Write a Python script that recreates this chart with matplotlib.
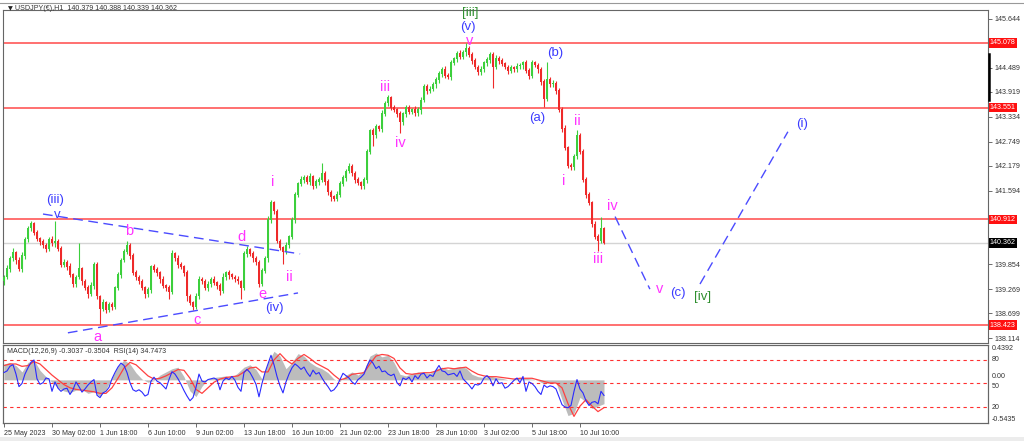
import numpy as np
import matplotlib
matplotlib.use('Agg')
import matplotlib.pyplot as plt
import matplotlib.transforms as mtrans
from matplotlib.lines import Line2D

plt.rcParams['font.family'] = ['Liberation Sans', 'DejaVu Sans']

# ---- price data, one candle = 4 hours ----
closes = [
    139.55, 139.75, 140.00, 140.14, 139.95, 139.74, 140.05, 140.44, 140.70, 140.82,
    140.60, 140.45, 140.38, 140.30, 140.21, 140.44, 140.35, 140.40, 140.22, 139.85,
    139.90, 139.80, 139.60, 139.38, 139.55, 139.75, 139.45, 139.30, 139.15, 139.35,
    139.85, 139.10, 138.80, 138.95, 138.78, 138.90, 138.85, 139.30, 139.60, 139.95,
    140.15, 140.30, 140.05, 139.65, 139.55, 139.45, 139.30, 139.15, 139.25, 139.80,
    139.72, 139.65, 139.50, 139.35, 139.30, 139.20, 140.10, 140.00, 139.85, 139.80,
    139.65, 139.10, 138.95, 138.85, 139.10, 139.50, 139.45, 139.30, 139.38, 139.50,
    139.42, 139.35, 139.22, 139.55, 139.65, 139.60, 139.55, 139.50, 139.45, 139.30,
    140.10, 140.20, 140.10, 140.00, 139.90, 139.40, 139.70, 140.00, 140.90, 141.30,
    141.10, 140.40, 140.25, 140.15, 140.30, 140.50, 140.90, 141.50, 141.75, 141.85,
    141.90, 141.80, 141.92, 141.70, 141.80, 141.85, 142.00, 141.80, 141.55, 141.45,
    141.40, 141.50, 141.75, 141.90, 142.05, 142.15, 142.00, 141.85, 141.78, 141.70,
    141.85, 142.50, 143.00, 142.90, 143.10, 143.05, 143.40, 143.65, 143.78, 143.55,
    143.50, 143.40, 143.20, 143.40, 143.55, 143.45, 143.50, 143.42, 143.50, 143.72,
    144.05, 143.95, 143.98, 144.10, 144.20, 144.35, 144.45, 144.30, 144.28, 144.60,
    144.70, 144.82, 144.75, 144.85, 144.95, 144.80, 144.65, 144.50, 144.38, 144.45,
    144.60, 144.68, 144.80, 144.50, 144.70, 144.65, 144.58, 144.50, 144.42, 144.48,
    144.45, 144.52, 144.55, 144.60, 144.42, 144.30, 144.60, 144.55, 144.45, 144.15,
    143.75, 144.20, 144.10, 144.12, 143.95, 143.50, 143.05, 142.60, 142.18, 142.15,
    142.40, 142.90, 142.50, 141.85, 141.50, 141.30, 140.80, 140.50, 140.40, 140.70,
    140.36,
]
first_open = 139.45
wick_up = [
    0.06, 0.08, 0.05, 0.10, 0.04, 0.07, 0.09, 0.05, 0.06, 0.05,
    0.04, 0.07, 0.05, 0.08, 0.06, 0.05, 0.09, 0.47, 0.05, 0.06,
    0.07, 0.05, 0.08, 0.04, 0.06, 0.60, 0.05, 0.07, 0.06, 0.08,
    0.05, 0.06, 0.04, 0.09, 0.05, 0.07, 0.06, 0.05, 0.08, 0.06,
    0.07, 0.10, 0.05, 0.06, 0.08, 0.05, 0.07, 0.04, 0.06, 0.05,
    0.06, 0.08, 0.05, 0.07, 0.04, 0.06, 0.10, 0.05, 0.07, 0.06,
    0.05, 0.08, 0.06, 0.04, 0.07, 0.09, 0.05, 0.06, 0.08, 0.05,
    0.07, 0.04, 0.06, 0.09, 0.05, 0.07, 0.06, 0.05, 0.08, 0.04,
    0.06, 0.08, 0.05, 0.07, 0.06, 0.05, 0.07, 0.06, 0.09, 0.08,
    0.05, 0.07, 0.06, 0.04, 0.08, 0.05, 0.07, 0.06, 0.05, 0.09,
    0.06, 0.05, 0.08, 0.04, 0.07, 0.06, 0.25, 0.05, 0.07, 0.06,
    0.05, 0.08, 0.06, 0.07, 0.05, 0.09, 0.06, 0.05, 0.07, 0.04,
    0.06, 0.08, 0.05, 0.07, 0.06, 0.05, 0.09, 0.06, 0.07, 0.05,
    0.06, 0.04, 0.08, 0.05, 0.07, 0.06, 0.05, 0.08, 0.06, 0.07,
    0.05, 0.06, 0.09, 0.05, 0.07, 0.06, 0.05, 0.08, 0.06, 0.07,
    0.05, 0.06, 0.08, 0.05, 0.12, 0.06, 0.05, 0.07, 0.06, 0.08,
    0.05, 0.07, 0.06, 0.05, 0.08, 0.06, 0.07, 0.05, 0.06, 0.08,
    0.05, 0.07, 0.06, 0.05, 0.08, 0.06, 0.07, 0.05, 0.06, 0.05,
    0.07, 0.42, 0.06, 0.08, 0.05, 0.07, 0.06, 0.08, 0.05, 0.07,
    0.06, 0.12, 0.05, 0.08, 0.06, 0.07, 0.05, 0.08, 0.06, 0.26,
    0.03,
]
wick_dn = [
    0.08, 0.05, 0.07, 0.06, 0.09, 0.05, 0.06, 0.08, 0.05, 0.07,
    0.06, 0.05, 0.08, 0.06, 0.07, 0.05, 0.06, 0.08, 0.05, 0.07,
    0.06, 0.08, 0.05, 0.07, 0.06, 0.05, 0.08, 0.06, 0.09, 0.05,
    0.07, 0.06, 0.35, 0.05, 0.07, 0.06, 0.08, 0.05, 0.06, 0.07,
    0.05, 0.06, 0.08, 0.05, 0.07, 0.06, 0.05, 0.08, 0.06, 0.07,
    0.05, 0.06, 0.08, 0.05, 0.07, 0.16, 0.05, 0.06, 0.08, 0.05,
    0.07, 0.10, 0.05, 0.08, 0.06, 0.07, 0.05, 0.06, 0.08, 0.05,
    0.06, 0.07, 0.09, 0.05, 0.06, 0.08, 0.05, 0.07, 0.06, 0.26,
    0.05, 0.07, 0.06, 0.08, 0.05, 0.07, 0.06, 0.05, 0.08, 0.06,
    0.07, 0.05, 0.06, 0.29, 0.05, 0.07, 0.06, 0.08, 0.05, 0.06,
    0.07, 0.05, 0.08, 0.06, 0.05, 0.07, 0.06, 0.08, 0.05, 0.10,
    0.06, 0.05, 0.07, 0.06, 0.08, 0.05, 0.06, 0.07, 0.05, 0.08,
    0.06, 0.07, 0.05, 0.25, 0.06, 0.05, 0.08, 0.06, 0.07, 0.05,
    0.06, 0.08, 0.24, 0.05, 0.07, 0.06, 0.05, 0.08, 0.06, 0.11,
    0.05, 0.07, 0.06, 0.05, 0.08, 0.06, 0.07, 0.05, 0.06, 0.08,
    0.05, 0.07, 0.06, 0.05, 0.08, 0.06, 0.07, 0.05, 0.06, 0.07,
    0.05, 0.06, 0.08, 0.50, 0.05, 0.07, 0.06, 0.05, 0.08, 0.06,
    0.07, 0.05, 0.06, 0.08, 0.05, 0.07, 0.06, 0.05, 0.08, 0.06,
    0.18, 0.05, 0.07, 0.06, 0.08, 0.05, 0.07, 0.06, 0.05, 0.08,
    0.06, 0.07, 0.05, 0.06, 0.08, 0.05, 0.07, 0.06, 0.23, 0.05,
    0.02,
]

# MACD(12,26,9) read every second candle
macd_main = [
    0.20, 0.22, 0.18, 0.10, 0.22, 0.25, 0.12, 0.04, -0.03, -0.10,
    -0.14, -0.16, -0.13, -0.12, -0.17, -0.15, -0.21, -0.12, 0.03, 0.17,
    0.25, 0.20, 0.09, 0.01, -0.03, -0.01, 0.06, 0.10, 0.14, 0.16,
    0.04, -0.14, -0.21, -0.08, 0.01, 0.03, 0.04, 0.05, 0.03, 0.09,
    0.16, 0.19, 0.13, 0.01, 0.22, 0.36, 0.30, 0.14, 0.22, 0.33,
    0.30, 0.22, 0.17, 0.14, 0.09, 0.01, -0.02, 0.06, 0.10, 0.06,
    0.12, 0.30, 0.34, 0.29, 0.31, 0.22, 0.07, 0.05, 0.08, 0.10,
    0.09, 0.08, 0.14, 0.16, 0.13, 0.15, 0.17, 0.15, 0.07, 0.04,
    0.03, 0.05, 0.03, 0.02, 0.00, 0.01, 0.03, 0.02, 0.01, -0.01,
    -0.05, -0.04, -0.03, -0.25, -0.45, -0.42, -0.22, -0.28, -0.36, -0.33,
    -0.30,
]
macd_signal = [
    0.18, 0.20, 0.20, 0.17, 0.18, 0.23, 0.20, 0.13, 0.06, 0.00,
    -0.06, -0.10, -0.12, -0.13, -0.14, -0.15, -0.17, -0.17, -0.10, 0.02,
    0.15, 0.22, 0.19, 0.12, 0.05, 0.01, 0.02, 0.05, 0.09, 0.13,
    0.12, 0.02, -0.12, -0.17, -0.10, -0.03, 0.01, 0.03, 0.04, 0.05,
    0.10, 0.15, 0.16, 0.10, 0.10, 0.25, 0.33, 0.25, 0.20, 0.27,
    0.32, 0.27, 0.21, 0.17, 0.13, 0.06, 0.00, 0.02, 0.07, 0.08,
    0.09, 0.20, 0.30, 0.32, 0.31, 0.27, 0.15, 0.08, 0.07, 0.08,
    0.09, 0.09, 0.11, 0.14, 0.15, 0.14, 0.15, 0.16, 0.11, 0.07,
    0.05, 0.04, 0.04, 0.03, 0.02, 0.01, 0.02, 0.02, 0.02, 0.00,
    -0.02, -0.04, -0.04, -0.10, -0.30, -0.46, -0.33, -0.25, -0.33, -0.40,
    -0.35,
]
# RSI(14), one value per candle
rsi = [
    64, 66, 72, 74, 62, 46, 50, 62, 70, 77,
    80, 56, 49, 51, 57, 56, 40, 52, 44, 40,
    43, 44, 36, 42, 52, 46, 39, 43, 48, 52,
    55, 35, 32, 38, 40, 45, 56, 64, 71, 76,
    73, 64, 51, 42, 40, 42, 39, 34, 36, 53,
    58, 53, 51, 47, 43, 55, 65, 62, 56, 49,
    41, 34, 28, 32, 45, 62, 53, 52, 55, 56,
    57, 55, 42, 53, 57, 55, 59, 54, 45, 40,
    64, 68, 64, 57, 49, 33, 50, 64, 75, 86,
    74, 59, 47, 38, 52, 62, 70, 75, 72, 68,
    71, 64, 59, 67, 62, 64, 57, 51, 46, 40,
    42, 47, 55, 63, 60, 57, 52, 49, 55, 58,
    62, 72, 80, 76, 69, 72, 65, 66, 62, 60,
    62, 51, 47, 57, 55, 58, 52, 60, 56, 62,
    63, 57, 61, 59, 67, 73, 66, 65, 61, 62,
    63, 59, 66, 56, 52, 48, 43, 49, 48, 50,
    57, 60, 56, 47, 56, 50, 51, 44, 46, 50,
    54, 57, 51, 59, 40, 52, 50, 46, 40, 36,
    48, 45, 47, 46, 43, 33, 23, 20, 19, 22,
    40, 55, 43, 38, 28, 22, 26, 27, 24, 40,
    34.75,
]

levels = [145.078, 143.551, 140.912, 138.423]
last_price = 140.362
price_ticks = [145.644, 144.489, 143.919, 143.334, 142.749, 142.179,
               141.594, 139.854, 139.269, 138.699, 138.114]
time_ticks = [0, 16, 32, 48, 64, 80, 96, 112, 128, 144, 160, 176, 192]
time_labels = ['25 May 2023', '30 May 02:00', '1 Jun 18:00', '6 Jun 10:00',
               '9 Jun 02:00', '13 Jun 18:00', '16 Jun 10:00', '21 Jun 02:00',
               '23 Jun 18:00', '28 Jun 10:00', '3 Jul 02:00', '5 Jul 18:00',
               '10 Jul 10:00']

# wave counts (text, candle index, price)
blue_labels = [('(iii)', 17, 141.36), ('v', 17.7, 141.02), ('(iv)', 90, 138.82),
               ('(v)', 154.7, 145.46), ('(a)', 177.7, 143.31), ('(b)', 183.7, 144.84),
               ('(c)', 224.5, 139.18), ('(i)', 266, 143.17)]
pink_labels = [('a', 31, 138.15), ('b', 41.7, 140.65), ('c', 64.3, 138.54),
               ('d', 79.3, 140.51), ('e', 86, 139.16), ('i', 89.7, 141.79),
               ('ii', 95, 139.56), ('iii', 127, 144.04), ('iv', 132, 142.72),
               ('v', 155.3, 145.11), ('i', 186.7, 141.81), ('ii', 191, 143.24),
               ('iii', 198, 139.98), ('iv', 202.7, 141.22), ('v', 218.5, 139.28)]
green_labels = [('[iii]', 155.3, 145.77), ('[iv]', 232.7, 139.09)]

tri_upper = ([13, 98.7], [141.04, 140.10])
tri_lower = ([21.3, 98], [138.24, 139.18])
proj_down = ([203.7, 215.3], [140.98, 139.27])
proj_up = ([232, 261.3], [139.39, 142.98])

BLUE = '#3c3cff'
PINK = '#ff33ff'
GREEN = '#2f8f2f'
TXT = '#333333'
FS = 5.1

fig = plt.figure(figsize=(10.24, 4.41), dpi=100)
W, H = 1024.0, 441.0
ax = fig.add_axes([3 / W, 1 - 343 / H, 985 / W, 333 / H])
axm = fig.add_axes([3 / W, 1 - 423 / H, 985 / W, 78 / H])

n = len(closes)
x = np.arange(n)
c = np.array(closes)
o = np.array([first_open] + closes[:-1])
hi = np.maximum(o, c) + np.array(wick_up)
lo = np.minimum(o, c) - np.array(wick_dn)
cols = np.where(c >= o, '#3ccf3c', '#ee2a2a')

for lv in levels:
    ax.axhline(lv, color='#ff6464', lw=1.3, zorder=1)
ax.axhline(last_price, color='#d4d4d4', lw=1.0, zorder=1)

ax.vlines(x, lo, hi, colors=cols, lw=0.8, zorder=3)
ax.bar(x, np.abs(c - o) + 0.015, bottom=np.minimum(o, c), width=0.7,
       color=cols, lw=0, zorder=3)

for xs, ys in (tri_upper, tri_lower, proj_down, proj_up):
    ax.plot(xs, ys, color='#4b4bff', lw=1.0, dashes=(7, 4), zorder=4)

for t, bx, py in blue_labels:
    ax.text(bx, py, t, color=BLUE, fontsize=9.5, ha='center', va='center', zorder=5)
for t, bx, py in pink_labels:
    ax.text(bx, py, t, color=PINK, fontsize=10.5, ha='center', va='center', zorder=5)
for t, bx, py in green_labels:
    ax.text(bx, py, t, color=GREEN, fontsize=9.5, ha='center', va='center', zorder=5)

ax.set_xlim(-0.33, 328)
ax.set_ylim(138.0, 145.85)
ax.yaxis.tick_right()
ax.set_yticks(price_ticks)
ax.set_yticklabels(['%.3f' % v for v in price_ticks])
ax.tick_params(axis='y', labelsize=FS, labelcolor=TXT, length=3, width=0.6,
               color='#555555', pad=1.5)
ax.set_xticks([])
for s in ax.spines.values():
    s.set_color('#666666')
    s.set_linewidth(0.8)

yt = mtrans.blended_transform_factory(ax.transAxes, ax.transData)
for lv in levels:
    ax.text(1.002, lv, '%.3f' % lv, transform=yt, fontsize=FS, color='white',
            ha='left', va='center', clip_on=False, zorder=10,
            bbox=dict(boxstyle='square,pad=0.2', fc='#ff1010', ec='none'))
ax.text(1.002, last_price, '%.3f' % last_price, transform=yt, fontsize=FS,
        color='white', ha='left', va='center', clip_on=False, zorder=10,
        bbox=dict(boxstyle='square,pad=0.2', fc='black', ec='none'))

# ---- MACD + RSI pane ----
mx = np.arange(0, n, 2)
axm.fill_between(mx, 0, macd_main, color='#bcbcbc', lw=0, zorder=1)
axm.plot(mx, macd_signal, color='#ff4040', lw=0.9, zorder=3)
axm.set_ylim(-0.5435, 0.4392)
axm.set_xlim(-0.33, 328)
axr = axm.twinx()
axr.plot(x, rsi, color='#2a2aff', lw=0.8, zorder=4)
for lv in (80, 50, 20):
    axr.axhline(lv, color='#ff3030', lw=0.8, dashes=(3, 3))
axr.set_ylim(-0.4, 99.1)
axr.set_yticks([])
axm.set_yticks([])

for a in (axm, axr):
    for s in a.spines.values():
        s.set_color('#666666')
        s.set_linewidth(0.8)

mt = mtrans.blended_transform_factory(axm.transAxes, axm.transData)
rt = mtrans.blended_transform_factory(axr.transAxes, axr.transData)
axm.text(1.004, 0.4392, '0.4392', transform=mt, fontsize=FS, color=TXT, va='top')
axm.text(1.004, 0.0, '0.00', transform=mt, fontsize=FS, color=TXT, va='bottom')
axm.text(1.004, -0.5435, '-0.5435', transform=mt, fontsize=FS, color=TXT, va='bottom')
for lv in (80, 50, 20):
    axr.text(1.004, lv, str(lv), transform=rt, fontsize=FS, color=TXT,
             va='top' if lv == 50 else 'center')

axm.text(0.004, 0.96, 'MACD(12,26,9) -0.3037 -0.3504  RSI(14) 34.7473',
         transform=axm.transAxes, fontsize=FS, color=TXT, va='top', zorder=6)

axm.set_xticks(time_ticks)
axm.set_xticklabels(time_labels, ha='left')
axm.tick_params(axis='x', labelsize=FS, labelcolor=TXT, length=3, width=0.6,
                color='#555555', pad=2)

fig.text(8 / W, 1 - 9 / H, '\u25bc', fontsize=4.5, color='#222222', va='center',
         family=['DejaVu Sans'])
fig.text(15 / W, 1 - 9 / H, 'USDJPY(\u20ac),H1  140.379 140.388 140.339 140.362',
         fontsize=FS, color=TXT, va='center')

fig.add_artist(Line2D([0, 1], [1 - 2.5 / H, 1 - 2.5 / H], color='#999999', lw=0.8))
fig.add_artist(Line2D([988.5 / W, 988.5 / W], [1 - 54 / H, 1 - 100 / H],
                      color='black', lw=1.8))
fig.patches.append(plt.Rectangle((0, 0), 1, 4 / H, transform=fig.transFigure,
                                 fc='#ececec', ec='none'))

fig.savefig('out.png', dpi=100)
